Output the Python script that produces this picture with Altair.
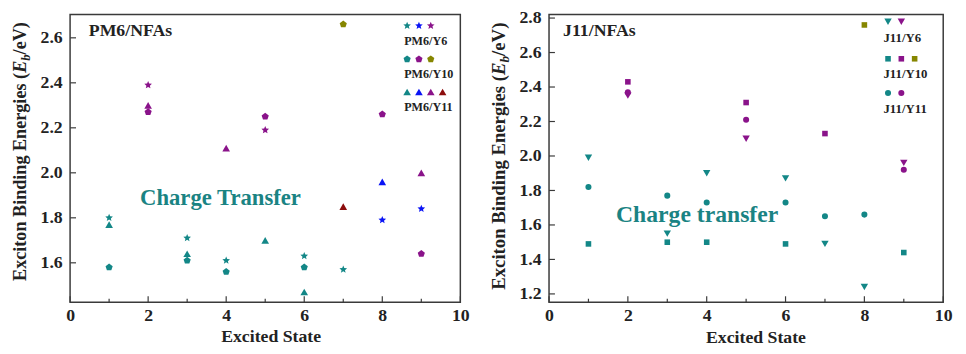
import math
import altair as alt
import pandas as pd

FONT = "Liberation Serif"
INK = "#222222"
FRAME = "#3a3a3a"

# ---------------- data ----------------
states = [1, 1, 1, 2, 2, 2, 3, 3, 3, 4, 4, 4, 5, 5, 5, 6, 6, 6, 7, 7, 7, 8, 8, 8, 9, 9, 9]

# PM6/NFAs
pm6_eb = [1.80, 1.77, 1.58, 2.39, 2.30, 2.27, 1.71, 1.64, 1.61, 2.11, 1.61, 1.56,
          2.25, 2.19, 1.70, 1.63, 1.58, 1.47, 2.66, 1.85, 1.57, 2.26, 1.96, 1.79,
          2.00, 1.84, 1.64]
pm6_system = ["Y6", "Y11", "Y10", "Y6", "Y11", "Y10", "Y6", "Y11", "Y10",
              "Y11", "Y6", "Y10", "Y10", "Y6", "Y11", "Y6", "Y10", "Y11",
              "Y10", "Y11", "Y6", "Y10", "Y11", "Y6", "Y11", "Y6", "Y10"]
pm6_type = ["cyan", "cyan", "cyan", "purple", "purple", "purple", "cyan", "cyan", "cyan",
            "purple", "cyan", "cyan", "purple", "purple", "cyan", "cyan", "cyan", "cyan",
            "olive", "wine", "cyan", "purple", "blue", "blue", "purple", "blue", "purple"]

# J11/NFAs
j11_eb = [1.99, 1.82, 1.49, 2.43, 2.37, 2.35, 1.77, 1.55, 1.50, 1.90, 1.73, 1.50,
          2.31, 2.21, 2.10, 1.87, 1.73, 1.49, 2.13, 1.65, 1.49, 2.76, 1.66, 1.24,
          1.96, 1.92, 1.44]
j11_system = ["Y6", "Y11", "Y10", "Y10", "Y11", "Y6", "Y11", "Y6", "Y10",
              "Y6", "Y11", "Y10", "Y10", "Y11", "Y6", "Y6", "Y11", "Y10",
              "Y10", "Y11", "Y6", "Y10", "Y11", "Y6", "Y6", "Y11", "Y10"]
j11_type = ["cyan", "cyan", "cyan", "purple", "purple", "purple", "cyan", "cyan", "cyan",
            "cyan", "cyan", "cyan", "purple", "purple", "purple", "cyan", "cyan", "cyan",
            "purple", "cyan", "cyan", "olive", "cyan", "cyan", "purple", "purple", "cyan"]

legend_systems = ["Y6", "Y10", "Y11"]
pm6_legend_types = [["cyan", "blue", "purple"], ["cyan", "purple", "olive"],
                    ["cyan", "blue", "purple", "wine"]]
j11_legend_types = [["cyan", "purple"], ["cyan", "purple", "olive"], ["cyan", "purple"]]

pm6_ticks_y = [1.6, 1.8, 2.0, 2.2, 2.4, 2.6]
j11_ticks_y = [1.2, 1.4, 1.6, 1.8, 2.0, 2.2, 2.4, 2.6, 2.8]
x_ticks = list(range(0, 11))
x_labels = [0, 2, 4, 6, 8, 10]

# ---------------- styles ----------------
TYPE_COLORS = {"cyan": "#138787", "blue": "#0a14f5", "purple": "#8a138a",
               "olive": "#868600", "wine": "#8c0d0d"}
TEAL_TEXT = "#1a8383"


def poly_path(n, inner=None, rot=-90):
    pts = []
    m = n * 2 if inner else n
    for k in range(m):
        r = 1.0 if (not inner or k % 2 == 0) else inner
        a = math.radians(rot + 360.0 * k / m)
        pts.append(f"{r * math.cos(a):.4f},{r * math.sin(a):.4f}")
    return "M" + "L".join(pts) + "Z"


STAR = poly_path(5, inner=0.45)
PENTAGON = poly_path(5)


def txt(text, x, y, size, color=INK, style="normal", align="left",
        baseline="alphabetic", angle=0, dx=0, dy=0):
    return alt.Chart(pd.DataFrame({"t": [text]})).mark_text(
        font=FONT, fontWeight="bold", fontStyle=style, fontSize=size, color=color,
        align=align, baseline=baseline, angle=angle, dx=dx, dy=dy
    ).encode(text="t:N", x=alt.value(x), y=alt.value(y))


def panel(P):
    W, H = P["W"], P["H"]
    y0, y1 = P["ydom"]
    xsc = alt.Scale(domain=[0, 10], nice=False, zero=False)
    ysc = alt.Scale(domain=[y0, y1], nice=False, zero=False)
    lab = dict(labelFont=FONT, labelFontWeight="bold", labelFontSize=18, labelColor=INK,
               ticks=False, domain=False, grid=False, title=None)
    xax = alt.Axis(values=x_labels, format="d", labelPadding=5, labelFlush=False, **lab)
    yax = alt.Axis(values=P["yticks"], format=".1f", labelPadding=8, **lab)
    col = alt.Color("type:N", scale=alt.Scale(domain=list(TYPE_COLORS),
                                              range=list(TYPE_COLORS.values())), legend=None)

    df = pd.DataFrame({"state": states, "eb": P["eb"], "sys": P["sys"], "type": P["type"]})
    rows = []
    for i, (s, types) in enumerate(zip(legend_systems, P["leg_types"])):
        for j, t in enumerate(types):
            px = P["leg_x0"] + j * P["leg_dx"]
            py = P["leg_rows"][i]
            rows.append({"state": px / W * 10, "eb": y1 - py / H * (y1 - y0), "sys": s, "type": t})
    df = pd.concat([df, pd.DataFrame(rows)], ignore_index=True)

    layers = []
    tdf = pd.DataFrame({"t": x_ticks})
    layers.append(alt.Chart(tdf).transform_filter("datum.t % 2 == 0").mark_rule(
        color=FRAME, strokeWidth=1.2).encode(
        x=alt.X("t:Q", scale=xsc, axis=xax), y=alt.value(H), y2=alt.value(H - 6)))
    layers.append(alt.Chart(tdf).transform_filter("datum.t % 2 == 1").mark_rule(
        color=FRAME, strokeWidth=1.2).encode(
        x=alt.X("t:Q", scale=xsc, axis=xax), y=alt.value(H), y2=alt.value(H - 3.5)))
    ydf = pd.DataFrame({"t": P["yticks"]})
    layers.append(alt.Chart(ydf).mark_rule(color=FRAME, strokeWidth=1.2).encode(
        y=alt.Y("t:Q", scale=ysc, axis=yax), x=alt.value(0), x2=alt.value(6)))

    for s in P["order"]:
        layers.append(alt.Chart(df).transform_filter(alt.datum.sys == s).mark_point(
            filled=True, opacity=1, shape=P["shapes"][s], size=P["sizes"][s], strokeWidth=0
        ).encode(x=alt.X("state:Q", scale=xsc, axis=xax),
                 y=alt.Y("eb:Q", scale=ysc, axis=yax), color=col))

    # legend captions
    for i, s in enumerate(legend_systems):
        layers.append(txt(P["name"] + "/" + s, P["leg_tx"], P["leg_ty"][i], P["leg_fs"]))
    # panel label, annotation
    layers.append(txt(P["name"] + "/NFAs", P["lab_x"], 22, 18))
    layers.append(txt(P["ct"], P["ct_x"], P["ct_y"], P["ct_fs"], color=TEAL_TEXT))
    # x title
    layers.append(txt("Excited State", P["xt_x"], H + P["xt_dy"], 18, align="center"))
    # y title with italic E and subscript b
    fs = P["yt_fs"]
    sub = fs * 0.7
    w1 = 11.474 * fs
    w2 = w1 + 0.667 * fs
    w3 = w2 + 0.5 * sub
    yx, yy = -45, P["yt_y"]
    layers.append(txt("Exciton Binding Energies (", yx, yy, fs, angle=270))
    layers.append(txt("E", yx, yy, fs, style="italic", angle=270, dx=w1))
    layers.append(txt("b", yx, yy, sub, style="italic", angle=270, dx=w2, dy=0.22 * fs))
    layers.append(txt("/eV)", yx, yy, fs, angle=270, dx=w3))

    return alt.layer(*layers).properties(width=W, height=H)


pm6 = dict(name="PM6", W=396, H=292, ydom=[1.425, 2.704], yticks=pm6_ticks_y,
           eb=pm6_eb, sys=pm6_system, type=pm6_type, leg_types=pm6_legend_types,
           leg_x0=342, leg_dx=12, leg_rows=[11.4, 45.4, 78.7],
           leg_tx=339, leg_ty=[31, 64.7, 97.7], leg_fs=12.3,
           order=["Y11", "Y6", "Y10"],
           shapes={"Y6": STAR, "Y10": PENTAGON, "Y11": "triangle-up"},
           sizes={"Y6": 66, "Y10": 58, "Y11": 60},
           lab_x=19, ct="Charge Transfer", ct_x=71, ct_y=193, ct_fs=23,
           xt_x=204, xt_dy=40, yt_fs=18.4, yt_y=270.4)

j11 = dict(name="J11", W=400, H=292, ydom=[1.152, 2.821], yticks=j11_ticks_y,
           eb=j11_eb, sys=j11_system, type=j11_type, leg_types=j11_legend_types,
           leg_x0=344, leg_dx=13.5, leg_rows=[7.4, 45, 79.7],
           leg_tx=339.3, leg_ty=[28, 64.7, 100.4], leg_fs=13,
           order=["Y6", "Y10", "Y11"],
           shapes={"Y6": "triangle-down", "Y10": "square", "Y11": "circle"},
           sizes={"Y6": 56, "Y10": 32, "Y11": 38},
           lab_x=14.3, ct="Charge transfer", ct_x=68, ct_y=210.2, ct_fs=24,
           xt_x=210, xt_dy=41.5, yt_fs=19.0, yt_y=279.4)

chart = alt.hconcat(panel(pm6), panel(j11), spacing=90, bounds="flush").configure_view(
    stroke=FRAME, strokeWidth=1.5
).properties(padding={"left": 2, "top": -3, "right": 5, "bottom": 0}, background="white")

chart.save("out.html", embed_options={"renderer": "svg", "actions": False})
